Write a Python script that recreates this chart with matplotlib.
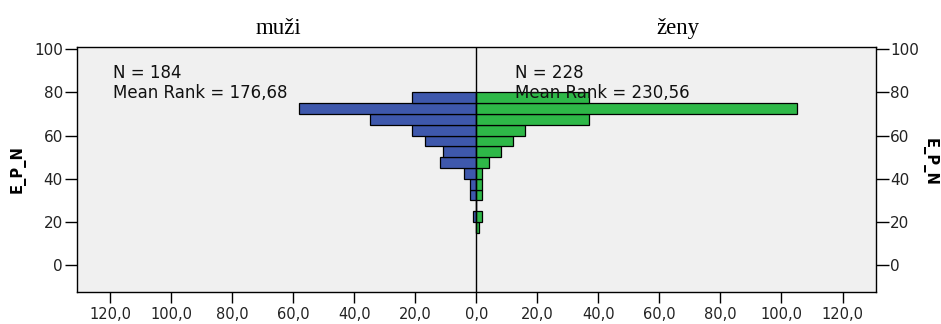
import matplotlib
matplotlib.use("Agg")
import matplotlib.pyplot as plt
import numpy as np

# Data: histogram bins of E_P_N (bin lower edges, width 5)
bin_edges = [15, 20, 25, 30, 35, 40, 45, 50, 55, 60, 65, 70, 75]
bin_width = 5
muzi_counts = [0, 1, 0, 2, 2, 4, 12, 11, 17, 21, 35, 58, 21]
zeny_counts = [1, 2, 0, 2, 2, 2, 4, 8, 12, 16, 37, 105, 37]
group_labels = ["muži", "ženy"]
n_values = [184, 228]
mean_ranks = ["176,68", "230,56"]
x_ticks = [-120, -100, -80, -60, -40, -20, 0, 20, 40, 60, 80, 100, 120]
y_ticks = [0, 20, 40, 60, 80, 100]
y_label = "E_P_N"

blue = "#3E58AC"
green = "#2EB848"

fig = plt.figure(figsize=(9.41, 3.24), dpi=100)
ax = fig.add_axes([0.0815, 0.0988, 0.8495, 0.7572])
ax.set_facecolor("#F0F0F0")

ax.barh(bin_edges, [-c for c in muzi_counts], height=bin_width, align="edge",
        color=blue, edgecolor="black", linewidth=0.9, zorder=2)
ax.barh(bin_edges, zeny_counts, height=bin_width, align="edge",
        color=green, edgecolor="black", linewidth=0.9, zorder=2)
ax.axvline(0, color="black", linewidth=1.0, zorder=3)

ax.set_xlim(-131, 131)
ax.set_ylim(-12.3, 101.1)
ax.set_xticks(x_ticks)
ax.set_xticklabels([f"{abs(v):.1f}".replace(".", ",") for v in x_ticks])
ax.set_yticks(y_ticks)
ax.set_yticklabels([str(v) for v in y_ticks])
ax.tick_params(axis="x", length=8, width=1, labelsize=10.5, pad=3, colors="black")
ax.tick_params(axis="y", length=9, width=1, labelsize=11, pad=1,
               right=True, labelright=True, left=True, labelleft=True)
for lab in ax.get_xticklabels() + ax.get_yticklabels():
    lab.set_color("#222222")
for sp in ax.spines.values():
    sp.set_linewidth(1.0)
    sp.set_color("black")

ax.set_ylabel(y_label, fontsize=10.5, fontweight="bold", labelpad=6)
fig.text(0.988, 0.5, y_label, rotation=270, fontsize=10.5, fontweight="bold",
         ha="center", va="center")

# Annotations
for xf, n, mr in zip([0.0454, 0.548], n_values, mean_ranks):
    ax.text(xf, 0.893, f"N = {n}", transform=ax.transAxes, fontsize=12,
            va="center", ha="left", zorder=5, color="#111111")
    ax.text(xf, 0.811, f"Mean Rank = {mr}", transform=ax.transAxes, fontsize=12,
            va="center", ha="left", zorder=5, color="#111111")

# Group titles
for xf, g in zip([0.252, 0.752], group_labels):
    ax.text(xf, 1.075, g, transform=ax.transAxes, fontsize=16.5,
            family="Liberation Serif", ha="center", va="center")

fig.savefig("out.png", dpi=100)
